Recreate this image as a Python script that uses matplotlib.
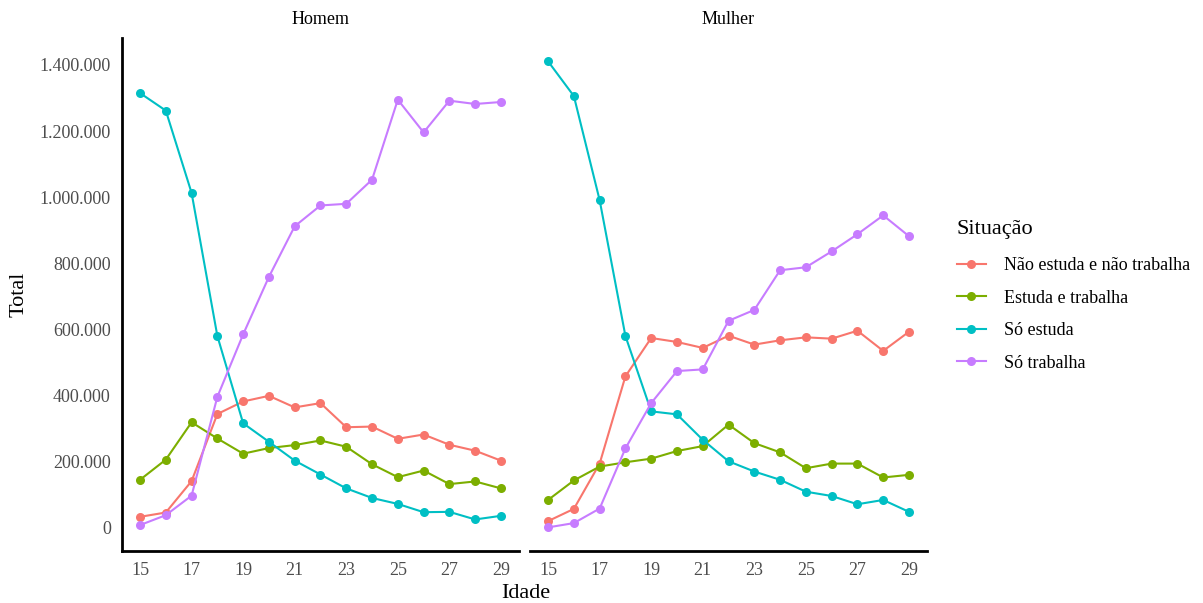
import matplotlib.pyplot as plt
from matplotlib.ticker import FuncFormatter
from matplotlib.lines import Line2D

# Idade de 15 a 29 anos
idades = list(range(15, 30))

situacoes = ["Não estuda e não trabalha", "Estuda e trabalha", "Só estuda", "Só trabalha"]
cores = ["#F8766D", "#7CAE00", "#00BFC4", "#C77CFF"]

# Totais (pessoas) por situação - Homem
homem_nem = [33000, 46000, 141000, 344000, 382000, 399000, 364000, 377000, 304000, 306000,
             269000, 282000, 251000, 233000, 203000]
homem_estuda_trabalha = [145000, 206000, 319000, 270000, 224000, 241000, 250000, 264000, 245000, 192000,
                         153000, 173000, 132000, 140000, 119000]
homem_so_estuda = [1315000, 1262000, 1013000, 580000, 316000, 260000, 203000, 161000, 119000, 90000,
                   72000, 47000, 48000, 25000, 36000]
homem_so_trabalha = [8000, 38000, 97000, 396000, 585000, 759000, 912000, 975000, 980000, 1053000,
                     1295000, 1196000, 1292000, 1282000, 1288000]

# Totais (pessoas) por situação - Mulher
mulher_nem = [20000, 57000, 194000, 458000, 574000, 562000, 544000, 581000, 554000, 567000,
              576000, 572000, 596000, 535000, 593000]
mulher_estuda_trabalha = [84000, 143000, 185000, 198000, 209000, 232000, 247000, 312000, 256000, 228000,
                          180000, 194000, 194000, 152000, 160000]
mulher_so_estuda = [1411000, 1306000, 991000, 580000, 352000, 343000, 266000, 201000, 170000, 145000,
                    109000, 96000, 71000, 84000, 48000]
mulher_so_trabalha = [1000, 14000, 58000, 240000, 377000, 474000, 479000, 626000, 659000, 779000,
                      788000, 836000, 888000, 945000, 882000]

paineis = {
    "Homem": [homem_nem, homem_estuda_trabalha, homem_so_estuda, homem_so_trabalha],
    "Mulher": [mulher_nem, mulher_estuda_trabalha, mulher_so_estuda, mulher_so_trabalha],
}

plt.rcParams['font.family'] = ['Liberation Serif', 'DejaVu Serif']

fig = plt.figure(figsize=(12.03, 6.03), dpi=100)
ax_h = fig.add_axes([0.1014, 0.0862, 0.330, 0.8507])
ax_m = fig.add_axes([0.4406, 0.0862, 0.330, 0.8507], sharey=ax_h)

fmt = FuncFormatter(lambda v, p: f"{int(v):,}".replace(",", "."))

for ax, (nome, series) in zip([ax_h, ax_m], paineis.items()):
    for valores, cor in zip(series, cores):
        ax.plot(idades, valores, color=cor, linewidth=1.5, marker="o", markersize=6.5,
                markeredgewidth=0)
    ax.set_xlim(14.3, 29.7)
    ax.set_ylim(-70500, 1481500)
    ax.set_xticks(range(15, 30, 2))
    ax.set_yticks(range(0, 1400001, 200000))
    ax.yaxis.set_major_formatter(fmt)
    ax.tick_params(length=0, labelsize=13, labelcolor="#4D4D4D", pad=8)
    for s in ["top", "right"]:
        ax.spines[s].set_visible(False)
    ax.spines["bottom"].set_linewidth(2)
    ax.spines["left"].set_linewidth(2)
    ax.set_title(nome, fontsize=13, pad=10)

ax_m.spines["left"].set_visible(False)
ax_m.tick_params(axis="y", labelleft=False)

ax_h.set_ylabel("Total", fontsize=16, labelpad=8)
fig.text(0.4367, 0.0, "Idade", fontsize=16, ha="center", va="bottom")

handles = [Line2D([0], [0], color=c, linewidth=1.5, marker="o", markersize=6.5, markeredgewidth=0)
           for c in cores]
leg = fig.legend(handles, situacoes, title="Situação", loc="upper left",
                 bbox_to_anchor=(0.782, 0.662), frameon=False, fontsize=13,
                 title_fontsize=16, handlelength=1.6, handletextpad=1.0,
                 labelspacing=0.86, alignment="left")
leg._legend_box.sep = 13

fig.savefig("out.png", dpi=100)
